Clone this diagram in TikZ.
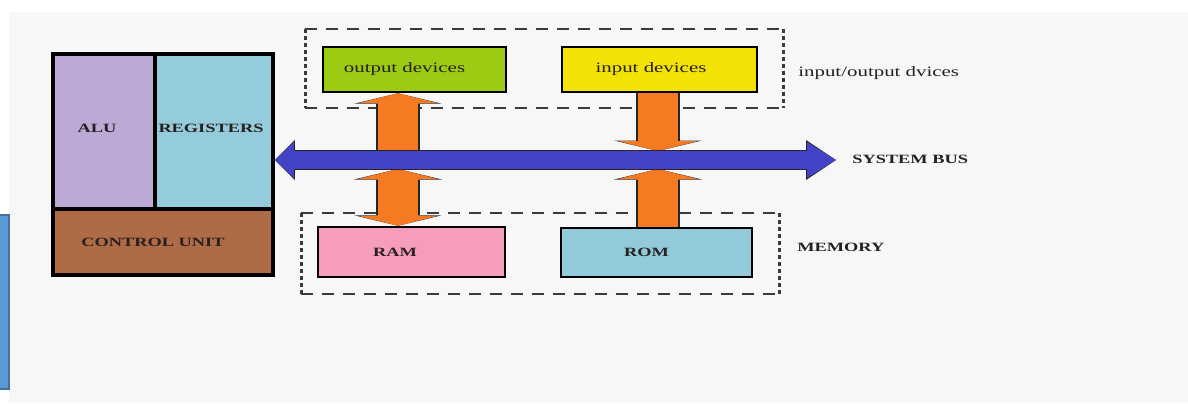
\documentclass[tikz,border=0pt]{standalone}
\usepackage{fontspec}
\usetikzlibrary{calc,arrows.meta}
\newfontfamily\boxfont[FakeStretch=1.45]{Liberation Serif}
\definecolor{paper}{HTML}{F7F7F7}
\definecolor{barcol}{HTML}{5B9BD5}
\definecolor{baredge}{HTML}{41719C}
\definecolor{alucol}{HTML}{BCA9D5}
\definecolor{regcol}{HTML}{95CCDB}
\definecolor{cucol}{HTML}{AF6B45}
\definecolor{outcol}{HTML}{9CCB14}
\definecolor{inpcol}{HTML}{F2E205}
\definecolor{ramcol}{HTML}{F59DBB}
\definecolor{romcol}{HTML}{93CADB}
\definecolor{buscol}{HTML}{4343C6}
\definecolor{fatcol}{HTML}{F57A22}
\definecolor{framegray}{HTML}{3A3A3A}
\definecolor{labelgray}{HTML}{262020}

\begin{document}
\begin{tikzpicture}[x=0.02cm,y=-0.02cm]
% Styles
\tikzset{
    cpubox/.style={draw, line width=0.08cm, inner sep=0pt},
    unitbox/.style={draw, line width=0.05cm, inner sep=0pt},
    capstext/.style={text=labelgray, font=\boxfont\fontsize{7.2}{8}\selectfont\bfseries},
    smalltext/.style={text=labelgray, font=\boxfont\fontsize{8.2}{9}\selectfont},
    frameh/.style={draw=framegray, line width=0.05cm, dash pattern=on 0.24cm off 0.18cm},
    framev/.style={draw=framegray, line width=0.06cm, dash pattern=on 0.08cm off 0.06cm},
    FatF/.tip={Triangle[width=1.6cm, length=0.2cm, line width=0pt]},
    FatE/.tip={Triangle[width=1.76cm, length=0.21cm, line width=0pt]},
    BusF/.tip={Triangle[width=0.72cm, length=0.58cm, line width=0pt]},
    BusE/.tip={Triangle[width=0.8cm, length=0.6cm, line width=0pt]},
    LeftF/.tip={Triangle[width=0.72cm, length=0.38cm, line width=0pt]},
    LeftE/.tip={Triangle[width=0.8cm, length=0.4cm, line width=0pt]},
    fatedge/.style={draw=black!85, line width=0.88cm},
    fatfill/.style={draw=fatcol, line width=0.8cm},
    busedge/.style={draw=black!85, line width=0.4cm},
    busfill/.style={draw=buscol, line width=0.36cm}
}
\useasboundingbox (0,0) rectangle (1188,403);
% Background
\fill[paper] (9,12) rectangle (1188,403);
\draw[fill=barcol, draw=baredge, line width=0.03cm] (-3,215) rectangle (9,389);

% CPU
\node[cpubox, fill=alucol, minimum width=2.04cm, minimum height=3.1cm,
    label={[capstext, xshift=-0.14cm, yshift=0.07cm]center:ALU}] (alu) at (104,131.5) {};
\node[cpubox, fill=regcol, minimum width=2.36cm, minimum height=3.1cm,
    label={[capstext, xshift=-0.06cm, yshift=0.07cm]center:REGISTERS}] (reg) at (214,131.5) {};
\node[cpubox, fill=cucol, minimum width=4.4cm, minimum height=1.32cm,
    label={[capstext, xshift=-0.2cm]center:CONTROL UNIT}] (cu) at (163,242) {};

% I/O devices
\node[unitbox, fill=outcol, minimum width=3.66cm, minimum height=0.9cm,
    label={[smalltext, xshift=-0.2cm]center:output devices}] (outdev) at (414.5,69.5) {};
\node[unitbox, fill=inpcol, minimum width=3.9cm, minimum height=0.9cm,
    label={[smalltext, xshift=-0.17cm]center:input devices}] (inpdev) at (659.5,69.5) {};
\draw[frameh] (305,29) -- (783,29);
\draw[frameh] (305,108) -- (783,108);
\draw[framev] (305,29) -- (305,108);
\draw[framev] (783,29) -- (783,108);
\node[smalltext, anchor=west, inner sep=0pt] (iolabel) at (798,73) {input/output dvices};

% Memory
\node[unitbox, fill=ramcol, minimum width=3.74cm, minimum height=1.0cm,
    label={[capstext, xshift=-0.33cm]center:RAM}] (ram) at (411.5,252) {};
\node[unitbox, fill=romcol, minimum width=3.82cm, minimum height=0.98cm,
    label={[capstext, xshift=-0.2cm]center:ROM}] (rom) at (656.5,252.5) {};
\draw[frameh] (301,213) -- (779,213);
\draw[frameh] (301,294) -- (779,294);
\draw[framev] (301,213) -- (301,294);
\draw[framev] (779,213) -- (779,294);
\node[capstext, anchor=west, inner sep=0pt] (memlabel) at (797,247) {MEMORY};

% Bus coordinates
\coordinate (busE) at (836,160);
\coordinate (busW) at (reg.east |- busE);
\coordinate (bustop) at (0,151);
\coordinate (busbot) at (0,169);
\coordinate (ramx) at (398,0);
\coordinate (romx) at (658,0);

% Orange arrows
\draw[fatedge, -FatE] (ramx |- bustop) -- (outdev.south -| ramx);
\draw[fatfill, -FatF] (ramx |- bustop) -- (outdev.south -| ramx);
\draw[fatedge, FatE-FatE] (ramx |- busbot) -- (ram.north -| ramx);
\draw[fatfill, FatF-FatF] (ramx |- busbot) -- (ram.north -| ramx);
\draw[fatedge, -FatE] (inpdev.south -| romx) -- (romx |- bustop);
\draw[fatfill, -FatF] (inpdev.south -| romx) -- (romx |- bustop);
\draw[fatedge, -FatE] (rom.north -| romx) -- (romx |- busbot);
\draw[fatfill, -FatF] (rom.north -| romx) -- (romx |- busbot);

% System bus
\draw[busedge, LeftE-BusE] (busW) -- (busE);
\draw[busfill, LeftF-BusF] (busW) -- (busE);
\node[capstext, anchor=west, inner sep=0pt] (buslabel) at (852,159) {SYSTEM BUS};
\end{tikzpicture}
\end{document}
